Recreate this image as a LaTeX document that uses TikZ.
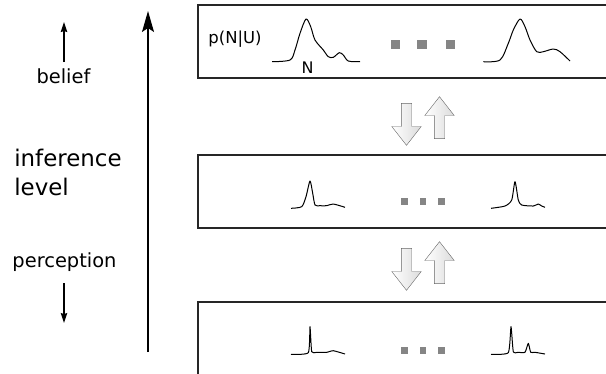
\documentclass[tikz,border=0pt]{standalone}
\usepackage{fontspec}
\setmainfont{DejaVu Sans}
\usetikzlibrary{arrows.meta, shapes.arrows}

\begin{document}
\begin{tikzpicture}[
            x = 1bp, y = -1bp, % pixel grid, y pointing down
            > = {Stealth[length=10bp, width=6.5bp, inset=1bp]}, % arrow head style
            semithick % line style
        ]

        \tikzstyle{level box}=[
            draw = black!85,
            line width = 1.2bp
        ]
        \tikzstyle{curve}=[
            black,
            line width = 1bp,
            line join = round
        ]
        \tikzset{gap dot/.style={
            fill = black!48,
            inner sep = 0pt,
            minimum size = #1
        }}
        \tikzstyle{flow}=[
            shape = single arrow,
            draw = black!60,
            thin,
            left color = white,
            right color = black!14,
            inner sep = 5bp,
            minimum height = 42bp,
            single arrow head extend = 9.5bp,
            single arrow tip angle = 76
        ]

        \clip (0,0) rectangle (606,373);

        % the three levels
        \draw[level box] (198,5) rectangle (620,78);
        \draw[level box] (198,155) rectangle (620,228);
        \draw[level box] (198,302) rectangle (620,390);

        % top level: beliefs
        \node (pnu) at (235,39) {\fontsize{16.5}{18}\selectfont p(N|U)};
        \draw[curve] plot[smooth, tension=0.5] coordinates {(272,61.7) (290,60) (295,50) (300,33.3) (306,19) (310.7,26.7) (315,40) (323.3,50) (328.3,56.7) (333.3,57.3) (339.3,52.7) (343.3,55) (348.3,61) (360,61.7)};
        \node (n) at (307.5,67.5) {\fontsize{16}{18}\selectfont N};
        \draw[curve] plot[smooth, tension=0.5] coordinates {(483.3,61.7) (500,60) (508.3,43.3) (513.3,30) (520,19) (525,26.7) (530,40) (536.7,51.7) (543.3,51.7) (553.3,49) (560,51.7) (570,61)};
        \node (d1) [gap dot=9.5bp] at (395.5,44.3) {};
        \node (d2) [gap dot=9.5bp] at (422,44.3) {};
        \node (d3) [gap dot=9.5bp] at (450.3,44.3) {};

        % middle level
        \draw[curve] plot[smooth, tension=0.4] coordinates {(291,208.3) (301.7,206.7) (306,196.7) (310,181) (312.7,193.3) (315,205) (320,205.7) (326.7,205.7) (333.3,204) (345,207.3)};
        \draw[curve] plot[smooth, tension=0.4] coordinates {(491,208.3) (505,206) (511.7,200) (515,181.7) (518.3,200) (521.7,205) (533.3,206) (538.3,204) (541.7,206) (545,207.3)};
        \node (e1) [gap dot=6.5bp] at (404.7,201.7) {};
        \node (e2) [gap dot=6.5bp] at (423,201.7) {};
        \node (e3) [gap dot=6.5bp] at (441.3,201.7) {};

        % bottom level: perception
        \draw[curve] plot[smooth, tension=0.3] coordinates {(291,354.3) (308.3,352.7) (310,326.7) (311.7,351.7) (316.7,352.3) (326.7,352.3) (333.3,350.7) (345,354)};
        \draw[curve] plot[smooth, tension=0.3] coordinates {(491,354.3) (508.3,352.7) (511,326.7) (513.3,351.7) (518.3,352.3) (525,352.3) (528.3,343.3) (530.7,352.3) (535,352.3) (545,354)};
        \node (f1) [gap dot=6.5bp] at (404.7,350.7) {};
        \node (f2) [gap dot=6.5bp] at (423,350.7) {};
        \node (f3) [gap dot=6.5bp] at (441.3,350.7) {};

        % messages between levels
        \node (down1) [flow, shape border rotate=270] at (406.5,121) {};
        \node (up1) [flow, shape border rotate=90] at (439.5,121) {};
        \node (down2) [flow, shape border rotate=270] at (406.5,266) {};
        \node (up2) [flow, shape border rotate=90] at (439.5,266) {};

        % axis on the left
        \coordinate (axlow) at (148,352);
        \coordinate (axhigh) at (148,11);
        \draw[-{Stealth[length=21bp, width=12bp, inset=4bp]}, line width = 1.3bp] (axlow) -- (axhigh);

        \node (belief) at (63.5,76) {\fontsize{19.5}{22}\selectfont belief};
        \coordinate (bup) at (64,62);
        \coordinate (btop) at (64,22);
        \draw[->, line width = 1.1bp] (bup) -- (btop);

        \node (level) [anchor=west, align=left, inner sep=0pt,
            font=\fontsize{23}{29}\selectfont] at (14,172.5) {inference\\level};

        \node (percep) at (64.5,262) {\fontsize{19.5}{22}\selectfont perception};
        \coordinate (pdown) at (64,283);
        \coordinate (pbot) at (64,323);
        \draw[->, line width = 1.1bp] (pdown) -- (pbot);

    \end{tikzpicture}
\end{document}
